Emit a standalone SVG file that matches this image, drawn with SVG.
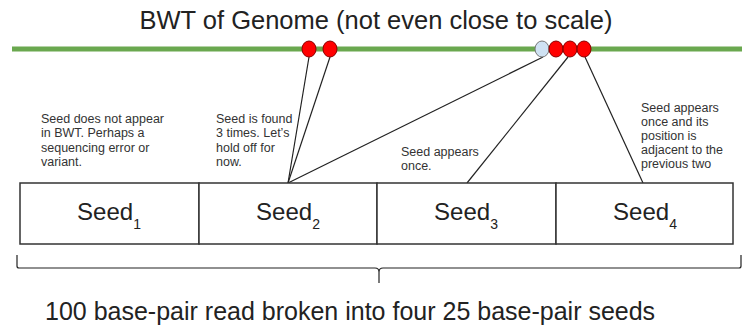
<svg xmlns="http://www.w3.org/2000/svg" width="742" height="325" viewBox="0 0 742 325">
<style>
.t{font-family:"Liberation Sans",Arial,sans-serif;fill:#222}
.title{font-size:25.5px;text-anchor:middle}
.note{font-size:12.5px;fill:#333}
.seed{font-size:24px;text-anchor:middle}
.sub{font-size:14px}
.box{fill:#fff;stroke:#333;stroke-width:1.5}
.con{stroke:#222;stroke-width:1.2;fill:none}
.red{fill:#ff0000;stroke:#8a0000;stroke-width:1}
.blue{fill:#cfe2f3;stroke:#777;stroke-width:1}
</style>
<rect width="742" height="325" fill="#fff"/>
<text class="t title" x="376" y="29">BWT of Genome (not even close to scale)</text>
<g id="genome">
<line x1="12" y1="49" x2="742" y2="49" stroke="#6aa84f" stroke-width="5"/>
</g>
<g id="connectors">
<line class="con" x1="309" y1="57" x2="288" y2="183"/>
<line class="con" x1="330" y1="57" x2="288" y2="183"/>
<line class="con" x1="543" y1="57" x2="288" y2="183"/>
<line class="con" x1="568" y1="57" x2="467" y2="183"/>
<line class="con" x1="585" y1="57" x2="643" y2="183"/>
</g>
<g id="hits">
<ellipse class="red" cx="309" cy="49" rx="7" ry="8"/>
<ellipse class="red" cx="330" cy="49" rx="7" ry="8"/>
<ellipse class="blue" cx="542" cy="49" rx="7" ry="8"/>
<ellipse class="red" cx="556" cy="49" rx="7" ry="8"/>
<ellipse class="red" cx="570" cy="49" rx="7" ry="8"/>
<ellipse class="red" cx="584" cy="49" rx="7" ry="8"/>
</g>
<g id="note1">
<text class="t note" x="41" y="123">Seed does not appear</text>
<text class="t note" x="41" y="137">in BWT. Perhaps a</text>
<text class="t note" x="41" y="151.5">sequencing error or</text>
<text class="t note" x="41" y="166">variant.</text>
</g>
<g id="note2">
<text class="t note" x="216" y="123">Seed is found</text>
<text class="t note" x="216" y="137">3 times. Let’s</text>
<text class="t note" x="216" y="151.5">hold off for</text>
<text class="t note" x="216" y="166">now.</text>
</g>
<g id="note3">
<text class="t note" x="401" y="156">Seed appears</text>
<text class="t note" x="401" y="170">once.</text>
</g>
<g id="note4">
<text class="t note" x="641" y="112">Seed appears</text>
<text class="t note" x="641" y="126">once and its</text>
<text class="t note" x="641" y="140">position is</text>
<text class="t note" x="641" y="154">adjacent to the</text>
<text class="t note" x="641" y="168">previous two</text>
</g>
<g id="seed1">
<rect class="box" x="20" y="183" width="179" height="61"/>
<text class="t seed" x="109" y="220">Seed<tspan class="sub" dy="9">1</tspan></text>
</g>
<g id="seed2">
<rect class="box" x="199" y="183" width="178" height="61"/>
<text class="t seed" x="288" y="220">Seed<tspan class="sub" dy="9">2</tspan></text>
</g>
<g id="seed3">
<rect class="box" x="377" y="183" width="179" height="61"/>
<text class="t seed" x="466" y="220">Seed<tspan class="sub" dy="9">3</tspan></text>
</g>
<g id="seed4">
<rect class="box" x="556" y="183" width="177" height="61"/>
<text class="t seed" x="645" y="220">Seed<tspan class="sub" dy="9">4</tspan></text>
</g>
<g id="brace">
<path class="con" d="M17,255 L17,266 Q17,268 19,268 L375,268 Q379,268 379,272 L379,283 M379,272 Q379,268 383,268 L739,268 Q741,268 741,266 L741,255"/>
</g>
<text class="t" x="45" y="320" font-size="25">100 base-pair read broken into four 25 base-pair seeds</text>
</svg>
